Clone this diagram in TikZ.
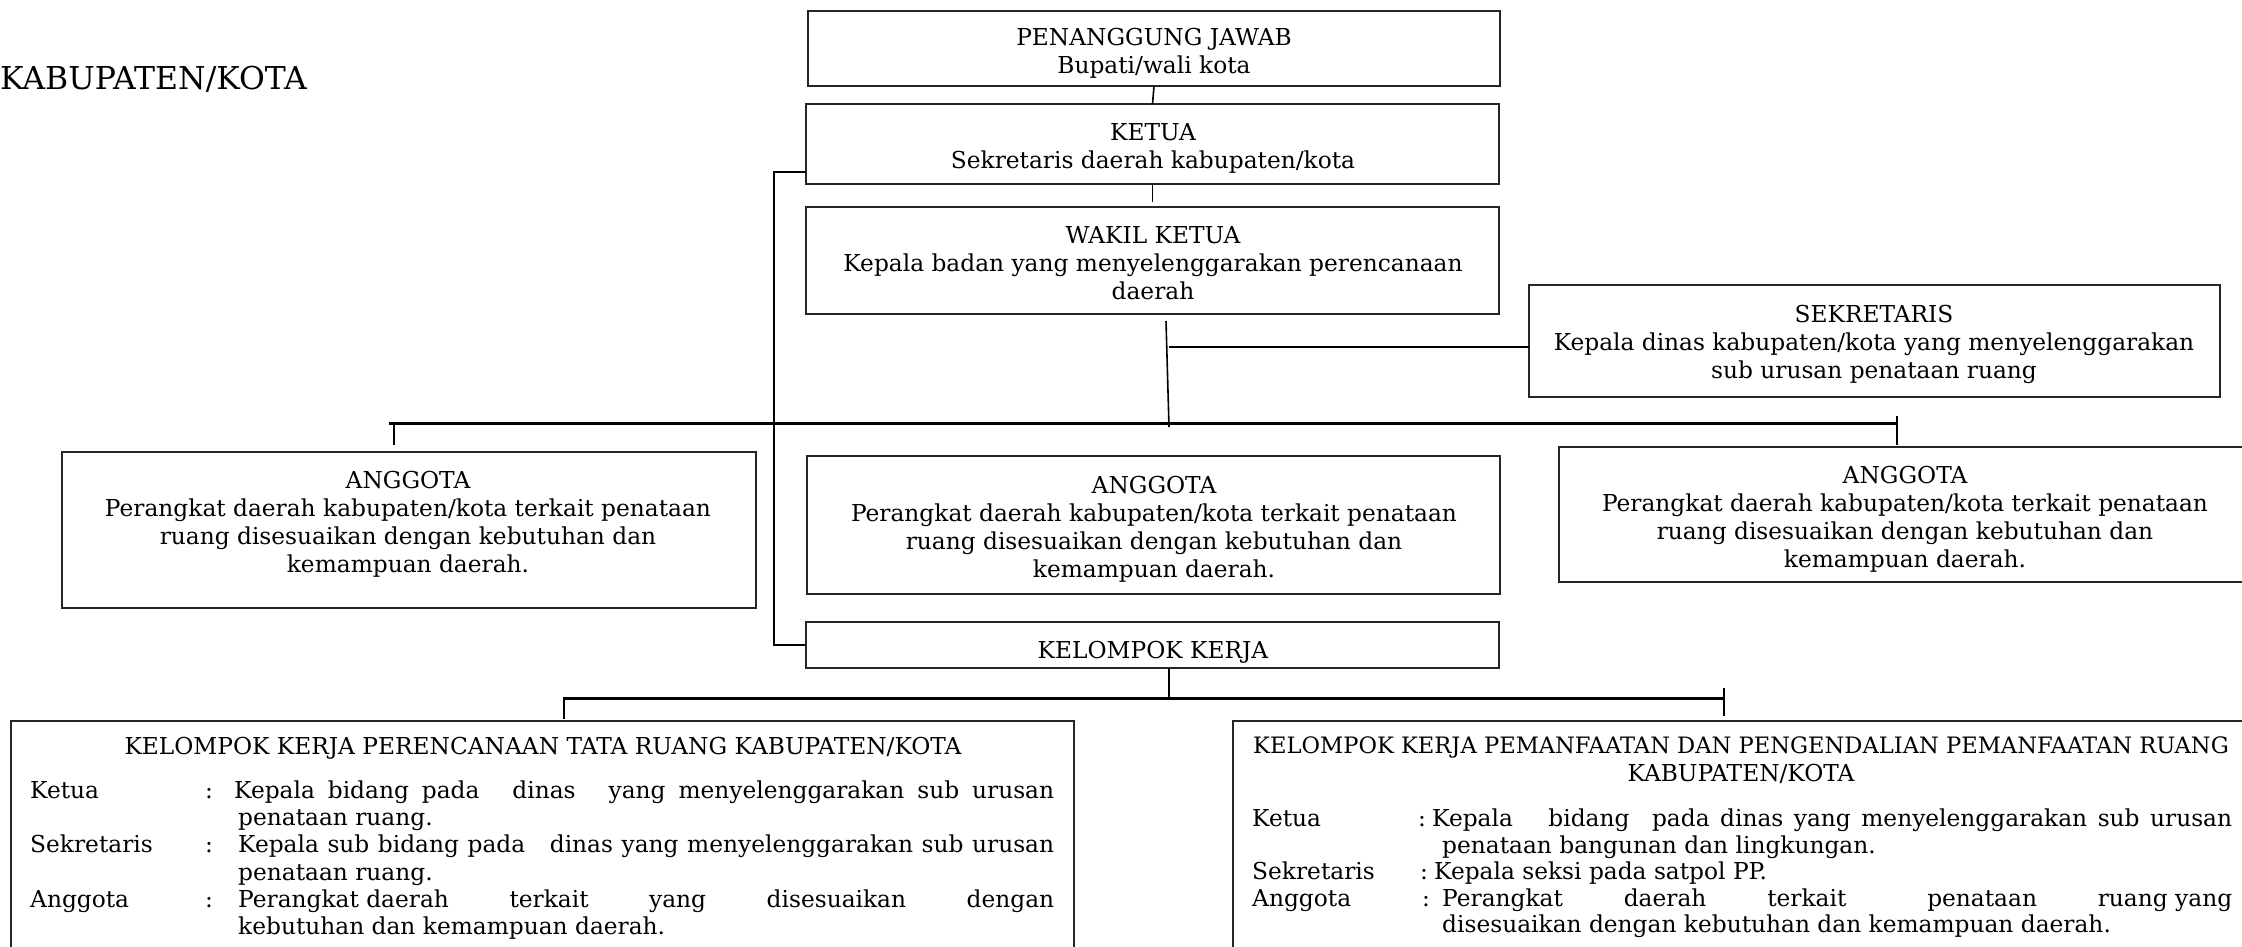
\documentclass[tikz,border=0pt]{standalone}
\usepackage{fontspec}
\setmainfont{DejaVu Serif}
\usetikzlibrary{calc}
\newcommand\ls{\rule[-7pt]{0pt}{28pt}}
\newcommand\jl[2]{\makebox[#1][s]{#2}}
\begin{document}
\begin{tikzpicture}[x=1pt,y=-1pt,
  box/.style={draw=black!85, line width=2pt, anchor=north west, inner sep=0pt, outer sep=0pt},
  txt/.style={anchor=north, inner sep=0pt, align=center, font=\fontsize{23.3}{28}\selectfont},
  tl/.style={anchor=base west, inner sep=0pt, font=\fontsize{23.3}{27}\selectfont},
  conn/.style={line width=1.6pt, black},
  link/.style={line width=2.4pt, black},
  bus/.style={line width=3pt, black}]
\useasboundingbox (0,0) rectangle (2242,946);
\clip (0,0) rectangle (2242,946);

% title
\node[anchor=base west, inner sep=0pt, font=\fontsize{31.5}{36}\selectfont] (title) at (0,89) {KABUPATEN/KOTA};

% boxes
\node[box, minimum width=692pt, minimum height=75pt] (pj) at (808,11) {};
\node[box, minimum width=693pt, minimum height=80pt] (ketua) at (806,104) {};
\node[box, minimum width=693pt, minimum height=107pt] (wakil) at (806,207) {};
\node[box, minimum width=691pt, minimum height=112pt] (sek) at (1529,285) {};
\node[box, minimum width=694pt, minimum height=156pt] (ang1) at (62,452) {};
\node[box, minimum width=693pt, minimum height=138pt] (ang2) at (807,456) {};
\node[box, minimum width=700pt, minimum height=135pt] (ang3) at (1559,447) {};
\node[box, minimum width=693pt, minimum height=46pt] (kk) at (806,622) {};
\node[box, minimum width=1063pt, minimum height=300pt] (kpr) at (11,721) {};
\node[box, minimum width=1050pt, minimum height=300pt] (kpm) at (1233,721) {};

% box texts
\node[txt] (tpj) at (1154,24) {\ls PENANGGUNG JAWAB\\\ls Bupati/wali kota};
\node[txt] (tketua) at (1153,119) {\ls KETUA\\\ls Sekretaris daerah kabupaten/kota};
\node[txt] (twakil) at (1153,222) {\ls WAKIL KETUA\\\ls Kepala badan yang menyelenggarakan perencanaan\\\ls daerah};
\node[txt] (tsek) at (1874,301) {\ls SEKRETARIS\\\ls Kepala dinas kabupaten/kota yang menyelenggarakan\\\ls sub urusan penataan ruang};
\node[txt] (tang1) at (408,467) {\ls ANGGOTA\\\ls Perangkat daerah kabupaten/kota terkait penataan\\\ls ruang disesuaikan dengan kebutuhan dan\\\ls kemampuan daerah.};
\node[txt] (tang2) at (1154,472) {\ls ANGGOTA\\\ls Perangkat daerah kabupaten/kota terkait penataan\\\ls ruang disesuaikan dengan kebutuhan dan\\\ls kemampuan daerah.};
\node[txt] (tang3) at (1905,462) {\ls ANGGOTA\\\ls Perangkat daerah kabupaten/kota terkait penataan\\\ls ruang disesuaikan dengan kebutuhan dan\\\ls kemampuan daerah.};
\node[txt] (tkk) at (1153,637) {\ls KELOMPOK KERJA};

% bottom-left group
\node[tl, anchor=base] (tkpr) at (543,754) {KELOMPOK KERJA PERENCANAAN TATA RUANG KABUPATEN/KOTA};
\node[tl] (l1a) at (30,798) {Ketua};
\node[tl] (l1b) at (205,798) {:};
\node[tl] (l1c) at (234,798) {\jl{820pt}{Kepala bidang pada\hspace{20pt} dinas\hspace{20pt} yang menyelenggarakan sub urusan}};
\node[tl] (l2c) at (238,825) {penataan ruang.};
\node[tl] (l3a) at (30,852) {Sekretaris};
\node[tl] (l3b) at (205,852) {:};
\node[tl] (l3c) at (238,852) {\jl{816pt}{Kepala sub bidang pada\hspace{16pt} dinas yang menyelenggarakan sub urusan}};
\node[tl] (l4c) at (238,880) {penataan ruang.};
\node[tl] (l5a) at (30,907) {Anggota};
\node[tl] (l5b) at (205,907) {:};
\node[tl] (l5c) at (238,907) {\jl{816pt}{\mbox{Perangkat daerah} terkait yang disesuaikan dengan}};
\node[tl] (l6c) at (238,934) {kebutuhan dan kemampuan daerah.};

% bottom-right group
\node[txt] (tkpm) at (1741,732) {\ls{\fontsize{22.6}{28}\selectfont KELOMPOK KERJA PEMANFAATAN DAN PENGENDALIAN PEMANFAATAN RUANG}\\\ls KABUPATEN/KOTA};
\node[tl] (r1a) at (1252,826) {Ketua};
\node[tl] (r1b) at (1418,826) {:};
\node[tl] (r1c) at (1432,826) {\jl{800pt}{Kepala\hspace{25pt} bidang\hspace{12pt} pada dinas yang menyelenggarakan sub urusan}};
\node[tl] (r2c) at (1442,853) {penataan bangunan dan lingkungan.};
\node[tl] (r3a) at (1252,879) {Sekretaris};
\node[tl] (r3b) at (1420,879) {:};
\node[tl] (r3c) at (1434,879) {Kepala seksi pada satpol PP.};
\node[tl] (r5a) at (1252,906) {Anggota};
\node[tl] (r5b) at (1422,906) {:};
\node[tl] (r5c) at (1442,906) {\jl{790pt}{Perangkat daerah terkait\hspace{20pt} penataan \mbox{ruang yang}}};
\node[tl] (r6c) at (1442,932) {disesuaikan dengan kebutuhan dan kemampuan daerah.};

% connectors
\draw[conn] (pj.south) -- (ketua.north);
\draw[conn] (ketua.south) -- ($(wakil.north)+(0,-5)$);
\draw[link] ([yshift=12pt]ketua.south west) -- ++(-32,0) |- (kk.west);
\coordinate (wd1) at (1166,321);
\coordinate (wd2) at (1169,427);
\draw[conn] (wd1) -- (wd2);
\coordinate (sj) at (1169,347);
\draw[link] (sj) -- (sj -| sek.west);
\coordinate (b1l) at (389,423);
\coordinate (b1r) at (1898,423);
\draw[bus] (b1l) -- (b1r);
\coordinate (d1) at (394,423);
\draw[conn] (d1) -- ++(0,22);
\coordinate (d2) at (1897,416);
\draw[conn] (d2) -- ++(0,29);
\coordinate (kd) at (1169,668);
\draw[conn] (kd) -- ++(0,30);
\coordinate (b2l) at (563,698);
\coordinate (b2r) at (1725,698);
\draw[bus] (b2l) -- (b2r);
\coordinate (d3) at (564,698);
\draw[conn] (d3) -- ++(0,21);
\coordinate (d4) at (1724,688);
\draw[conn] (d4) -- ++(0,28);
\end{tikzpicture}
\end{document}
